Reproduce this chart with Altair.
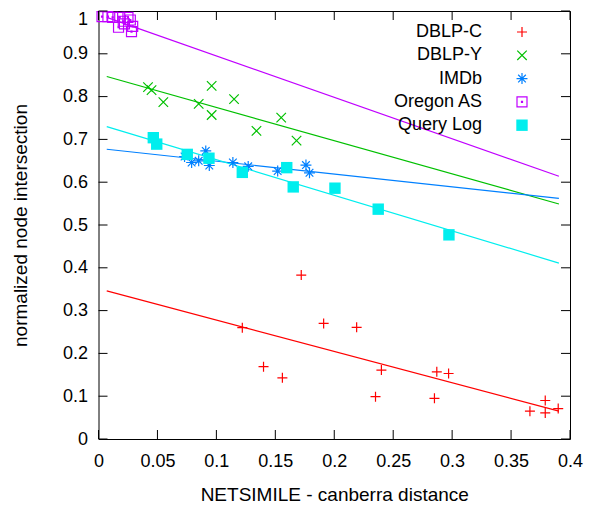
import altair as alt
import pandas as pd

# ---------------- data ----------------
series = ["DBLP-C", "DBLP-Y", "IMDb", "Oregon AS", "Query Log"]
colors = ["#ff0000", "#00c000", "#0080ff", "#c000ff", "#00eeee"]

dblpc_x = [0.122, 0.172, 0.140, 0.156, 0.191, 0.219, 0.240, 0.235, 0.287, 0.297, 0.285, 0.366, 0.379, 0.379, 0.390]
dblpc_y = [0.260, 0.383, 0.169, 0.143, 0.270, 0.261, 0.161, 0.099, 0.157, 0.153, 0.095, 0.065, 0.090, 0.061, 0.071]

dblpy_x = [0.042, 0.045, 0.055, 0.085, 0.096, 0.096, 0.115, 0.134, 0.155, 0.168]
dblpy_y = [0.822, 0.815, 0.787, 0.783, 0.825, 0.757, 0.794, 0.720, 0.751, 0.697]

imdb_x = [0.073, 0.079, 0.085, 0.091, 0.094, 0.114, 0.127, 0.152, 0.176, 0.179]
imdb_y = [0.660, 0.646, 0.650, 0.673, 0.639, 0.646, 0.637, 0.626, 0.640, 0.622]

oregon_x = [0.003, 0.008, 0.012, 0.018, 0.025, 0.017, 0.022, 0.027, 0.029, 0.028, 0.021]
oregon_y = [0.987, 0.987, 0.985, 0.985, 0.985, 0.962, 0.970, 0.979, 0.964, 0.952, 0.976]

qlog_x = [0.0465, 0.0494, 0.0753, 0.0937, 0.122, 0.1597, 0.1652, 0.2006, 0.2373, 0.2973]
qlog_y = [0.704, 0.689, 0.665, 0.656, 0.623, 0.634, 0.589, 0.586, 0.537, 0.477]

# fitted lines: value at the start and end of the drawn range
fit_x = [0.007, 0.3906]
fit_start = [0.346, 0.847, 0.677, 0.985, 0.730]
fit_end = [0.065, 0.549, 0.562, 0.614, 0.411]

x_ticks = [0, 0.05, 0.1, 0.15, 0.2, 0.25, 0.3, 0.35, 0.4]
y_ticks = [0, 0.1, 0.2, 0.3, 0.4, 0.5, 0.6, 0.7, 0.8, 0.9, 1.0]

xs = [dblpc_x, dblpy_x, imdb_x, oregon_x, qlog_x]
ys = [dblpc_y, dblpy_y, imdb_y, oregon_y, qlog_y]

# ---------------- styling ----------------
FONT = "Liberation Sans"
W, H = 471.5, 428
TICK = 9

shapes = [
    "M-1,0L1,0M0,-1L0,1",
    "M-1,-1L1,1M-1,1L1,-1",
    "M-1,0L1,0M0,-1L0,1M-0.7,-0.7L0.7,0.7M-0.7,0.7L0.7,-0.7",
    "M-1,-1L1,-1L1,1L-1,1ZM-0.1,-0.1L0.1,-0.1L0.1,0.1L-0.1,0.1Z",
    "square",
]
sizes = [100, 90, 120, 100, 130]
filled = [False, False, False, False, True]

xscale = alt.Scale(domain=[0, 0.4], nice=False, zero=False)
yscale = alt.Scale(domain=[0, 1], nice=False, zero=False)

xaxis = alt.Axis(values=x_ticks, format="~g", ticks=False, domain=False, grid=False,
                 labelFont=FONT, labelFontSize=18, labelColor="black", labelPadding=13,
                 labelFlush=False, labelOverlap=False,
                 title="NETSIMILE - canberra distance", titleFont=FONT, titleFontSize=19,
                 titleFontWeight="normal", titleColor="black", titleY=55, titleBaseline="middle")
yaxis = alt.Axis(values=y_ticks, format="~g", ticks=False, domain=False, grid=False,
                 labelFont=FONT, labelFontSize=18, labelColor="black", labelPadding=11,
                 labelFlush=False, labelOverlap=False,
                 labelBaseline={"condition": {"test": "datum.value >= 1", "value": "top"},
                                "value": "middle"},
                 labelOffset={"condition": {"test": "datum.value >= 1", "value": -1},
                              "value": 0},
                 title="normalized node intersection", titleFont=FONT, titleFontSize=19,
                 titleFontWeight="normal", titleColor="black", titleAngle=270,
                 titleX=-78, titleY=H / 2, titleAlign="center", titleBaseline="middle")

X = alt.X("x:Q", scale=xscale, axis=xaxis)
Y = alt.Y("y:Q", scale=yscale, axis=yaxis)

layers = []

# fit lines
for i, name in enumerate(series):
    df = pd.DataFrame({"x": fit_x, "y": [fit_start[i], fit_end[i]]})
    layers.append(alt.Chart(df).mark_line(color=colors[i], strokeWidth=1.2).encode(x=X, y=Y))

# points
for i, name in enumerate(series):
    df = pd.DataFrame({"x": xs[i], "y": ys[i]})
    layers.append(
        alt.Chart(df).mark_point(shape=shapes[i], filled=filled[i], size=sizes[i],
                                 color=colors[i], opacity=1, strokeWidth=1.2)
        .encode(x=X, y=Y)
    )

# inward ticks on all four sides
xt = pd.DataFrame({"x": x_ticks})
yt = pd.DataFrame({"y": y_ticks})
layers.append(alt.Chart(xt).mark_rule(color="black", strokeWidth=1).encode(
    x=X, y=alt.value(H), y2=alt.value(H - TICK)))
layers.append(alt.Chart(xt).mark_rule(color="black", strokeWidth=1).encode(
    x=X, y=alt.value(0), y2=alt.value(TICK)))
layers.append(alt.Chart(yt).mark_rule(color="black", strokeWidth=1).encode(
    y=Y, x=alt.value(0), x2=alt.value(TICK)))
layers.append(alt.Chart(yt).mark_rule(color="black", strokeWidth=1).encode(
    y=Y, x=alt.value(W), x2=alt.value(W - TICK)))

# legend (labels right-aligned, symbol to the right)
for i, name in enumerate(series):
    ly = 21 + 23.3 * i
    ldf = pd.DataFrame({"name": [name]})
    layers.append(alt.Chart(ldf).mark_text(align="right", baseline="middle", font=FONT,
                                           fontSize=18, color="black")
                  .encode(x=alt.value(383.5), y=alt.value(ly), text="name:N"))
    layers.append(alt.Chart(ldf).mark_point(shape=shapes[i], filled=filled[i], size=sizes[i],
                                            color=colors[i], opacity=1, strokeWidth=1.2)
                  .encode(x=alt.value(423.5), y=alt.value(ly)))

chart = (
    alt.layer(*layers)
    .properties(width=W, height=H,
                padding={"left": 90.5, "top": 3, "right": 20, "bottom": 70},
                autosize=alt.AutoSizeParams(type="none"))
    .configure_view(stroke="black", strokeWidth=1)
)

chart.save("out.html", embed_options={"renderer": "svg", "actions": False})
